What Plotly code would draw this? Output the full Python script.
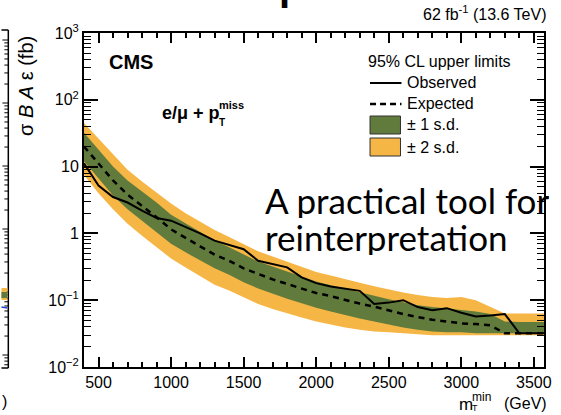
import math
import plotly.graph_objects as go

# ---------------- data ----------------
mass = [400, 500, 600, 700, 800, 900, 1000, 1100, 1200, 1300, 1400, 1500, 1600, 1700,
        1800, 1900, 2000, 2100, 2200, 2300, 2400, 2500, 2600, 2700, 2800, 2900, 3000,
        3100, 3200, 3300, 3400, 3500, 3600]
observed = [11.2, 5.2, 3.5, 2.9, 2.2, 1.7, 1.55, 1.25, 1.0, 0.78, 0.68, 0.58, 0.39, 0.35,
            0.31, 0.22, 0.18, 0.16, 0.148, 0.138, 0.088, 0.092, 0.10, 0.079, 0.071, 0.076,
            0.065, 0.057, 0.059, 0.062, 0.032, 0.032, 0.032]
expected = [20, 11, 6.2, 3.8, 2.6, 1.75, 1.15, 0.85, 0.64, 0.48, 0.39, 0.30, 0.245, 0.205,
            0.175, 0.15, 0.128, 0.115, 0.10, 0.089, 0.080, 0.070, 0.062, 0.056, 0.051, 0.048,
            0.045, 0.044, 0.042, 0.032, 0.032, 0.032, 0.032]
plus1 = [32, 18, 10, 6.2, 4.2, 2.9, 1.9, 1.4, 1.05, 0.78, 0.62, 0.48, 0.38, 0.32,
         0.27, 0.225, 0.19, 0.168, 0.148, 0.13, 0.115, 0.103, 0.093, 0.084, 0.079, 0.075,
         0.072, 0.068, 0.062, 0.048, 0.047, 0.047, 0.047]
minus1 = [12, 6.6, 3.7, 2.3, 1.55, 1.05, 0.70, 0.52, 0.40, 0.30, 0.24, 0.185, 0.15, 0.125,
          0.105, 0.09, 0.077, 0.068, 0.06, 0.053, 0.048, 0.043, 0.039, 0.036, 0.034, 0.033,
          0.033, 0.032, 0.032, 0.032, 0.032, 0.032, 0.032]
plus2 = [45, 26, 15, 9.0, 6.0, 4.1, 2.8, 2.0, 1.5, 1.12, 0.88, 0.68, 0.54, 0.45,
         0.38, 0.32, 0.265, 0.235, 0.205, 0.182, 0.162, 0.145, 0.13, 0.12, 0.112, 0.108, 0.112,
         0.10, 0.08, 0.063, 0.063, 0.063, 0.063]
minus2 = [7.5, 4.0, 2.3, 1.4, 0.92, 0.62, 0.42, 0.31, 0.23, 0.17, 0.14, 0.11, 0.088, 0.074,
          0.063, 0.055, 0.048, 0.043, 0.039, 0.036, 0.034, 0.033, 0.032, 0.031, 0.030, 0.030,
          0.030, 0.030, 0.030, 0.030, 0.030, 0.030, 0.030]

x_range = [400, 3570]
y_tick_vals = [0.01, 0.1, 1, 10, 100, 1000]
y_tick_text = ["10<sup>\u22122</sup>", "10<sup>\u22121</sup>", "1", "10", "10<sup>2</sup>", "10<sup>3</sup>"]
x_tick_vals = [500, 1000, 1500, 2000, 2500, 3000, 3500]

GREEN = "#607b3c"
ORANGE = "#f6b646"
FONT = "Liberation Sans, Arial, sans-serif"
SLIDE_FONT = "Lato, Open Sans, sans-serif"

W, H = 561, 415
L, R, T, B = 84, 9, 33, 48
PW, PH = W - L - R, H - T - B


def px(x):
    return (x - L) / PW


def py(y):
    return (H - B - y) / PH


fig = go.Figure()
fig.add_trace(go.Scatter(x=mass, y=plus2, mode="lines", line=dict(width=0), showlegend=False, hoverinfo="skip"))
fig.add_trace(go.Scatter(x=mass, y=minus2, mode="lines", line=dict(width=0), fill="tonexty",
                         fillcolor=ORANGE, showlegend=False, hoverinfo="skip"))
fig.add_trace(go.Scatter(x=mass, y=plus1, mode="lines", line=dict(width=0), showlegend=False, hoverinfo="skip"))
fig.add_trace(go.Scatter(x=mass, y=minus1, mode="lines", line=dict(width=0), fill="tonexty",
                         fillcolor=GREEN, showlegend=False, hoverinfo="skip"))
fig.add_trace(go.Scatter(x=mass, y=expected, mode="lines",
                         line=dict(color="black", width=2.5, dash="6px,5px"), showlegend=False))
fig.add_trace(go.Scatter(x=mass, y=observed, mode="lines",
                         line=dict(color="black", width=2), showlegend=False))

fig.update_xaxes(range=x_range, tickvals=x_tick_vals, ticks="inside", ticklen=10, tickwidth=1.5,
                 tickcolor="black", showline=True, linecolor="black", linewidth=2, mirror="allticks",
                 showgrid=False, zeroline=False,
                 minor=dict(dtick=100, tick0=400, ticks="inside", ticklen=5, tickwidth=1.5,
                            tickcolor="black", showgrid=False),
                 tickfont=dict(family=FONT, size=16, color="black"))
fig.update_yaxes(type="log", range=[-2, 3], tickvals=y_tick_vals, ticktext=y_tick_text,
                 ticks="inside", ticklen=14, tickwidth=1.5, tickcolor="black",
                 showline=True, linecolor="black", linewidth=2, mirror="allticks",
                 showgrid=False, zeroline=False,
                 minor=dict(dtick="D1", ticks="inside", ticklen=7, tickwidth=1.2,
                            tickcolor="black", showgrid=False),
                 tickfont=dict(family=FONT, size=16, color="black"))

ann = []
shapes = []


def text(x, y, s, size=14, xanchor="left", bold=False, family=FONT, textangle=0, yanchor="middle",
         height=None):
    if bold:
        s = "<b>" + s + "</b>"
    a = dict(x=px(x), y=py(y), xref="paper", yref="paper", text=s, showarrow=False,
             xanchor=xanchor, yanchor=yanchor, textangle=textangle,
             font=dict(family=family, size=size, color="black"))
    if height:
        a["height"] = height
    ann.append(a)


def seg(x0, y0, x1, y1, color="black", width=1.5, dash=None):
    line = dict(color=color, width=width)
    if dash:
        line["dash"] = dash
    shapes.append(dict(type="line", xref="paper", yref="paper", x0=px(x0), x1=px(x1),
                       y0=py(y0), y1=py(y1), line=line))


def box(x0, y0, x1, y1, fill, edge="#333", width=1):
    shapes.append(dict(type="rect", xref="paper", yref="paper", x0=px(x0), x1=px(x1),
                       y0=py(y1), y1=py(y0), fillcolor=fill, line=dict(color=edge, width=width)))


# header texts
text(557, 13, "62 fb<sup>-1</sup> (13.6 TeV)", size=16, xanchor="right")
text(107, 62, "CMS", size=20, bold=True)
text(161, 113, "e/\u03bc + p", size=18, bold=True)
text(219, 105, "miss", size=11, bold=True)
text(219, 122, "T", size=10, bold=True)

# legend (drawn as in the original figure)
text(371, 62, "95% CL upper limits", size=16)
seg(375, 83, 407, 83, width=2)
text(411, 83, "Observed", size=16)
seg(375, 104, 407, 104, width=2.5, dash="6px,4px")
text(411, 104, "Expected", size=16)
box(375, 116, 406, 134, GREEN)
text(411, 125, "\u00b1 1 s.d.", size=16)
box(375, 138, 406, 156, ORANGE)
text(411, 147, "\u00b1 2 s.d.", size=16)

# axis titles
text(557, 403, "(GeV)", size=16, xanchor="right")
text(463, 404, "m", size=17, xanchor="left")
text(477, 397, "min", size=12, xanchor="left")
text(477, 408, "T", size=9, xanchor="left")
text(25, 86, "\u03c3 <i>B</i> <i>A</i> \u03b5 (fb)", size=20, xanchor="center", textangle=-90)

# slide overlay text
text(266, 200, "A practical tool for", size=35, family=SLIDE_FONT, height=36)
text(266, 237, "reinterpretation", size=35, family=SLIDE_FONT, height=36)

# slide title fragment at the very top
text(280, 10, "p", size=40, bold=True, yanchor="bottom")

# neighbouring plot fragment on the left
seg(7, 30, 7, 368)
seg(0, 30, 7, 30)
seg(0, 368, 7, 368)
for dec in range(6):
    ybase = 40 + 63 * dec
    for k in range(1, 10):
        yy = ybase + 63 * (1 - math.log10(k)) if k > 1 else ybase
        if 30 < yy < 366:
            seg(1 if k == 1 else 3, yy, 7, yy, width=1)
box(0, 288, 6, 300, ORANGE, edge=ORANGE, width=0)
box(0, 292, 6, 298, GREEN, edge=GREEN, width=0)
seg(0, 307, 6, 308, color="#2244dd", width=1.5)
text(3, 401, ")", size=16, xanchor="center")

fig.update_layout(width=W, height=H, margin=dict(l=L, r=R, t=T, b=B),
                  paper_bgcolor="white", plot_bgcolor="white",
                  annotations=ann, shapes=shapes, showlegend=False)
fig.write_html("out.html")
